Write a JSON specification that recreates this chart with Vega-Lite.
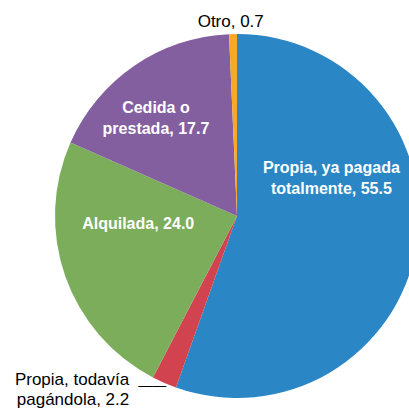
{
  "$schema": "https://vega.github.io/schema/vega-lite/v6.json",
  "width": 474,
  "height": 432,
  "autosize": {"type": "none"},
  "padding": 0,
  "background": "white",
  "config": {"view": {"stroke": null}, "text": {"font": "Liberation Sans"}},
  "data": {
    "values": [
      {"cat": "Propia, ya pagada totalmente", "order": 1, "value": 55.5, "label": "Propia, ya pagada\ntotalmente, 55.5"},
      {"cat": "Propia, todavía pagándola", "order": 2, "value": 2.2, "label": "Propia, todavía\npagándola, 2.2"},
      {"cat": "Alquilada", "order": 3, "value": 24.0, "label": "Alquilada, 24.0"},
      {"cat": "Cedida o prestada", "order": 4, "value": 17.7, "label": "Cedida o\nprestada, 17.7"},
      {"cat": "Otro", "order": 5, "value": 0.7, "label": "Otro, 0.7"}
    ]
  },
  "encoding": {
    "theta": {"field": "value", "type": "quantitative", "stack": true},
    "order": {"field": "order", "type": "quantitative"}
  },
  "layer": [
    {
      "mark": {"type": "arc", "outerRadius": 182},
      "encoding": {
        "color": {
          "field": "cat",
          "type": "nominal",
          "scale": {
            "domain": ["Propia, ya pagada totalmente", "Propia, todavía pagándola", "Alquilada", "Cedida o prestada", "Otro"],
            "range": ["#2b86c5", "#d0434f", "#7bad5b", "#845f9f", "#f7a829"]
          },
          "legend": null
        }
      }
    },
    {
      "mark": {"type": "text", "radius": 110, "dx": -14, "dy": -67, "fontSize": 16, "fontWeight": "bold", "color": "white", "lineBreak": "\n", "lineHeight": 21, "align": "center", "baseline": "middle"},
      "encoding": {"text": {"condition": {"test": "datum.order == 1", "field": "label"}, "value": ""}}
    },
    {
      "mark": {"type": "text", "radius": 110, "dx": 5, "dy": -28, "fontSize": 16, "fontWeight": "bold", "color": "white", "align": "center", "baseline": "middle"},
      "encoding": {"text": {"condition": {"test": "datum.order == 3", "field": "label"}, "value": ""}}
    },
    {
      "mark": {"type": "text", "radius": 110, "dx": -19, "dy": -17, "fontSize": 16, "fontWeight": "bold", "color": "white", "lineBreak": "\n", "lineHeight": 21, "align": "center", "baseline": "middle"},
      "encoding": {"text": {"condition": {"test": "datum.order == 4", "field": "label"}, "value": ""}}
    },
    {
      "mark": {"type": "text", "radius": 195, "dx": -2, "dy": 1, "fontSize": 17, "color": "black", "align": "center", "baseline": "middle"},
      "encoding": {"text": {"condition": {"test": "datum.order == 5", "field": "label"}, "value": ""}}
    },
    {
      "mark": {"type": "text", "radius": 182, "dx": -35, "dy": -3, "fontSize": 17, "color": "black", "lineBreak": "\n", "lineHeight": 20, "align": "right", "baseline": "middle"},
      "encoding": {"text": {"condition": {"test": "datum.order == 2", "field": "label"}, "value": ""}}
    },
    {
      "mark": {"type": "text", "radius": 182, "dx": 2, "dy": 3, "fontSize": 14, "color": "black", "align": "right", "baseline": "middle"},
      "encoding": {"text": {"condition": {"test": "datum.order == 2", "value": "——"}, "value": ""}}
    }
  ]
}
